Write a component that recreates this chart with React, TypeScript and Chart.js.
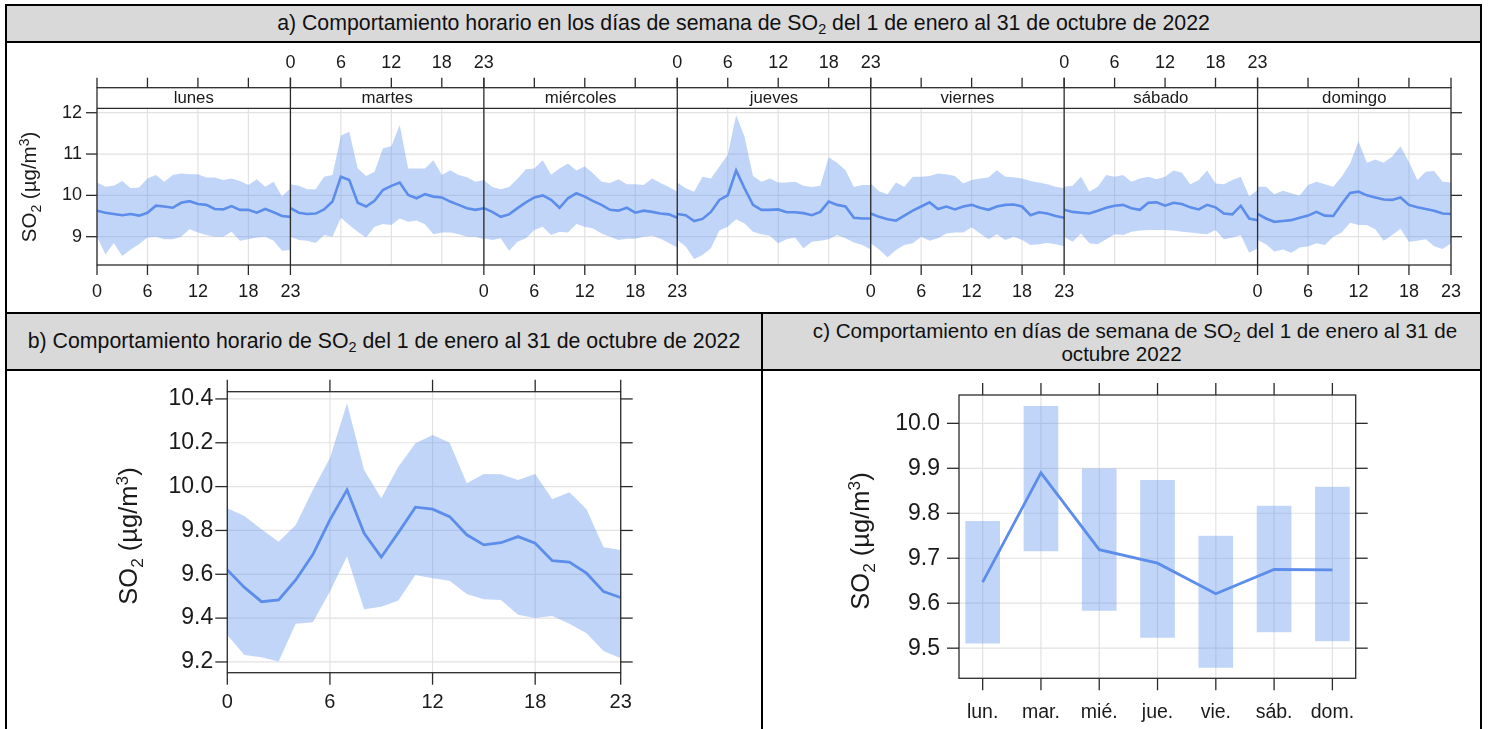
import React, { useEffect, useRef } from "react";
import { Chart, registerables } from "chart.js";
Chart.register(...registerables);

const FONT = '"Liberation Sans", Arial, Helvetica, sans-serif';
const BAND = "rgba(100,149,237,0.4)";
const LINE = "rgb(92,141,234)";
const GRID = "#e2e2e2";
const AXIS = "#2b2b2b";
const TEXT = "#1a1a1a";

// ---------- data ----------
const DAYS = ["lunes", "martes", "miércoles", "jueves", "viernes", "sábado", "domingo"];
const DAYS_SHORT = ["lun.", "mar.", "mié.", "jue.", "vie.", "sáb.", "dom."];
const HOURS = [0, 1, 2, 3, 4, 5, 6, 7, 8, 9, 10, 11, 12, 13, 14, 15, 16, 17, 18, 19, 20, 21, 22, 23];
const HOUR_TICKS = [0, 6, 12, 18, 23];
const A_Y_TICKS = [9, 10, 11, 12];
const B_Y_TICKS = [9.2, 9.4, 9.6, 9.8, 10.0, 10.2, 10.4];
const C_Y_TICKS = [9.5, 9.6, 9.7, 9.8, 9.9, 10.0];

const lunesMean = [9.63, 9.58, 9.55, 9.52, 9.55, 9.51, 9.58, 9.75, 9.73, 9.70, 9.82, 9.86, 9.79, 9.77, 9.67, 9.66, 9.74, 9.65, 9.65, 9.58, 9.67, 9.59, 9.50, 9.48];
const lunesHigh = [10.31, 10.21, 10.23, 10.35, 10.17, 10.19, 10.41, 10.49, 10.33, 10.49, 10.53, 10.51, 10.51, 10.43, 10.43, 10.37, 10.41, 10.35, 10.25, 10.39, 10.21, 10.33, 9.97, 10.17];
const lunesLow = [9.00, 8.57, 8.85, 8.53, 8.69, 8.82, 8.98, 9.00, 8.94, 8.94, 9.00, 9.18, 9.10, 9.04, 9.00, 9.00, 9.12, 8.90, 8.94, 8.98, 9.00, 8.90, 8.66, 8.68];

const martesMean = [9.69, 9.58, 9.55, 9.56, 9.66, 9.85, 10.45, 10.37, 9.82, 9.73, 9.87, 10.13, 10.23, 10.31, 10.01, 9.93, 10.03, 9.97, 9.95, 9.85, 9.77, 9.69, 9.65, 9.69];
const martesHigh = [10.27, 10.23, 10.15, 10.15, 10.45, 10.49, 11.44, 11.54, 10.65, 10.47, 10.57, 11.14, 11.19, 11.70, 10.65, 10.65, 10.65, 10.85, 10.49, 10.61, 10.49, 10.44, 10.33, 10.37];
const martesLow = [9.00, 8.92, 8.90, 8.85, 9.04, 9.00, 9.46, 9.28, 9.12, 8.98, 9.24, 9.31, 9.28, 9.44, 9.36, 9.39, 9.30, 9.06, 9.10, 9.10, 9.06, 9.00, 9.00, 8.94];

const miercolesMean = [9.69, 9.60, 9.48, 9.54, 9.69, 9.83, 9.95, 10.00, 9.89, 9.70, 9.93, 10.05, 9.97, 9.86, 9.77, 9.65, 9.63, 9.70, 9.58, 9.63, 9.60, 9.56, 9.54, 9.46];
const miercolesHigh = [10.37, 10.20, 10.15, 10.20, 10.40, 10.63, 10.65, 10.85, 10.50, 10.65, 10.77, 10.60, 10.70, 10.53, 10.33, 10.30, 10.39, 10.27, 10.27, 10.25, 10.41, 10.30, 10.20, 10.09];
const miercolesLow = [8.96, 8.92, 8.96, 8.66, 8.88, 8.96, 9.16, 9.24, 9.04, 9.12, 9.10, 9.31, 9.24, 9.20, 9.08, 9.00, 8.92, 8.95, 8.95, 9.00, 9.02, 8.95, 8.85, 8.74];

const juevesMean = [9.55, 9.52, 9.38, 9.43, 9.60, 9.89, 10.00, 10.60, 10.17, 9.77, 9.65, 9.65, 9.66, 9.59, 9.59, 9.57, 9.52, 9.60, 9.85, 9.77, 9.73, 9.46, 9.44, 9.44];
const juevesHigh = [10.31, 10.17, 10.09, 10.45, 10.41, 10.69, 10.98, 11.94, 11.42, 10.47, 10.33, 10.41, 10.31, 10.31, 10.33, 10.23, 10.20, 10.23, 10.92, 10.79, 10.61, 10.20, 10.25, 10.25];
const juevesLow = [8.92, 8.76, 8.46, 8.56, 8.72, 9.15, 9.24, 9.42, 9.32, 9.12, 9.06, 9.02, 8.84, 8.94, 8.98, 8.72, 8.88, 8.90, 8.94, 9.04, 8.96, 8.86, 8.80, 8.69];

const viernesMean = [9.56, 9.48, 9.42, 9.39, 9.51, 9.63, 9.73, 9.83, 9.67, 9.73, 9.66, 9.73, 9.77, 9.70, 9.65, 9.73, 9.77, 9.78, 9.73, 9.52, 9.59, 9.56, 9.50, 9.46];
const viernesHigh = [10.29, 10.10, 10.03, 10.31, 10.21, 10.45, 10.45, 10.47, 10.53, 10.51, 10.47, 10.29, 10.37, 10.41, 10.43, 10.61, 10.45, 10.44, 10.41, 10.35, 10.31, 10.27, 10.21, 10.17];
const viernesLow = [8.84, 8.69, 8.50, 8.68, 8.80, 8.84, 9.00, 8.90, 8.96, 9.08, 9.10, 9.10, 9.23, 9.08, 8.94, 9.06, 8.92, 9.00, 8.92, 8.80, 8.82, 8.85, 8.82, 8.77];

const sabadoMean = [9.65, 9.60, 9.58, 9.56, 9.63, 9.70, 9.75, 9.77, 9.69, 9.65, 9.82, 9.83, 9.75, 9.82, 9.79, 9.71, 9.66, 9.77, 9.71, 9.56, 9.54, 9.75, 9.44, 9.40];
const sabadoHigh = [10.21, 10.23, 10.45, 10.09, 10.21, 10.49, 10.45, 10.49, 10.33, 10.41, 10.45, 10.39, 10.45, 10.60, 10.55, 10.27, 10.37, 10.60, 10.29, 10.27, 10.37, 10.45, 9.97, 10.13];
const sabadoLow = [9.00, 8.88, 9.08, 8.84, 8.82, 8.94, 9.06, 9.04, 9.12, 9.15, 9.16, 9.16, 9.16, 9.15, 9.12, 9.10, 9.08, 9.06, 9.16, 8.94, 8.98, 9.04, 8.61, 8.72];

const domingoMean = [9.55, 9.44, 9.36, 9.38, 9.40, 9.46, 9.51, 9.60, 9.51, 9.50, 9.79, 10.06, 10.09, 10.00, 9.95, 9.90, 9.89, 9.95, 9.77, 9.71, 9.67, 9.63, 9.56, 9.55];
const domingoHigh = [10.21, 10.21, 10.03, 10.11, 10.05, 9.99, 10.25, 10.33, 10.27, 10.21, 10.45, 10.77, 11.31, 10.79, 10.87, 10.79, 10.94, 11.19, 10.81, 10.37, 10.57, 10.59, 10.33, 10.31];
const domingoLow = [8.92, 8.82, 8.64, 8.69, 8.61, 8.74, 8.76, 8.84, 8.80, 9.00, 9.10, 9.34, 9.28, 9.28, 9.18, 8.90, 9.04, 9.19, 8.88, 8.90, 8.94, 8.77, 8.70, 8.84];

const hourMean = [9.62, 9.54, 9.475, 9.483, 9.574, 9.69, 9.848, 9.985, 9.787, 9.678, 9.79, 9.906, 9.897, 9.863, 9.78, 9.734, 9.744, 9.772, 9.742, 9.662, 9.656, 9.605, 9.521, 9.494];
const hourHigh = [9.901, 9.866, 9.805, 9.749, 9.825, 9.985, 10.13, 10.38, 10.076, 9.947, 10.091, 10.198, 10.236, 10.2, 10.015, 10.058, 10.056, 10.03, 10.058, 9.942, 9.974, 9.897, 9.723, 9.711];
const hourLow = [9.323, 9.232, 9.222, 9.202, 9.374, 9.381, 9.521, 9.681, 9.44, 9.452, 9.48, 9.597, 9.582, 9.571, 9.51, 9.486, 9.483, 9.415, 9.4, 9.41, 9.374, 9.331, 9.25, 9.217];

const weekMean = [9.647, 9.89, 9.719, 9.689, 9.621, 9.675, 9.674];
const weekLow = [9.511, 9.716, 9.584, 9.524, 9.457, 9.536, 9.516];
const weekHigh = [9.782, 10.038, 9.899, 9.873, 9.749, 9.816, 9.858];

const A_MEAN = [lunesMean, martesMean, miercolesMean, juevesMean, viernesMean, sabadoMean, domingoMean];
const A_HIGH = [lunesHigh, martesHigh, miercolesHigh, juevesHigh, viernesHigh, sabadoHigh, domingoHigh];
const A_LOW = [lunesLow, martesLow, miercolesLow, juevesLow, viernesLow, sabadoLow, domingoLow];

// ---------- drawing helpers ----------
function txt(ctx: CanvasRenderingContext2D, s: string, x: number, y: number, size: number, align: CanvasTextAlign = "center") {
  ctx.save();
  ctx.font = `${size}px ${FONT}`;
  ctx.fillStyle = TEXT;
  ctx.textAlign = align;
  ctx.textBaseline = "middle";
  ctx.fillText(s, x, y);
  ctx.restore();
}
function seg(ctx: CanvasRenderingContext2D, x1: number, y1: number, x2: number, y2: number) {
  ctx.beginPath();
  ctx.moveTo(x1, y1);
  ctx.lineTo(x2, y2);
  ctx.stroke();
}
function yTitle(ctx: CanvasRenderingContext2D, cx: number, cy: number, size: number) {
  const parts = [
    { t: "SO", s: size, dy: 0 },
    { t: "2", s: size * 0.68, dy: size * 0.22 },
    { t: " (µg/m", s: size, dy: 0 },
    { t: "3", s: size * 0.68, dy: -size * 0.36 },
    { t: ")", s: size, dy: 0 },
  ];
  ctx.save();
  ctx.translate(cx, cy);
  ctx.rotate(-Math.PI / 2);
  ctx.fillStyle = TEXT;
  ctx.textAlign = "left";
  ctx.textBaseline = "alphabetic";
  let total = 0;
  const widths = parts.map((p) => {
    ctx.font = `${p.s}px ${FONT}`;
    const w = ctx.measureText(p.t).width;
    total += w;
    return w;
  });
  let x = -total / 2;
  const base = size * 0.36;
  parts.forEach((p, i) => {
    ctx.font = `${p.s}px ${FONT}`;
    ctx.fillText(p.t, x, base + p.dy);
    x += widths[i];
  });
  ctx.restore();
}

const invisible = "rgba(0,0,0,0)";

// ---------- chart a ----------
function configA(): any {
  const datasets: any[] = [];
  DAYS.forEach((day, d) => {
    datasets.push({
      label: day,
      data: HOURS.map((h) => ({ x: d * 23 + h, y: A_MEAN[d][h] })),
      borderColor: LINE, borderWidth: 2.6, pointRadius: 0, fill: false, order: 0, tension: 0,
    });
  });
  DAYS.forEach((day, d) => {
    datasets.push({
      label: day + " sup",
      data: HOURS.map((h) => ({ x: d * 23 + h, y: A_HIGH[d][h] })),
      borderColor: invisible, borderWidth: 0, pointRadius: 0, fill: false, order: 1,
    });
    datasets.push({
      label: day + " inf",
      data: HOURS.map((h) => ({ x: d * 23 + h, y: A_LOW[d][h] })),
      borderColor: invisible, borderWidth: 0, pointRadius: 0, fill: "-1", backgroundColor: BAND, order: 1,
    });
  });
  const plugin = {
    id: "latticeA",
    beforeDatasetsDraw(chart: any) {
      const { ctx, chartArea: ca, scales } = chart;
      const x = scales.x, y = scales.y;
      ctx.save();
      ctx.strokeStyle = GRID;
      ctx.lineWidth = 1.2;
      DAYS.forEach((_, d) => {
        HOUR_TICKS.forEach((h) => {
          const px = x.getPixelForValue(d * 23 + h);
          seg(ctx, px, ca.top, px, ca.bottom);
        });
      });
      A_Y_TICKS.forEach((v) => {
        const py = y.getPixelForValue(v);
        seg(ctx, ca.left, py, ca.right, py);
      });
      ctx.restore();
    },
    afterDatasetsDraw(chart: any) {
      const { ctx, chartArea: ca, scales } = chart;
      const x = scales.x, y = scales.y;
      const stripTop = ca.top - 20.6;
      ctx.save();
      ctx.strokeStyle = AXIS;
      ctx.lineWidth = 1.3;
      ctx.strokeRect(ca.left, stripTop, ca.right - ca.left, ca.bottom - stripTop);
      seg(ctx, ca.left, ca.top, ca.right, ca.top);
      DAYS.forEach((day, d) => {
        const x0 = x.getPixelForValue(d * 23);
        const x1 = x.getPixelForValue(d * 23 + 23);
        if (d < DAYS.length - 1) seg(ctx, x1, stripTop, x1, ca.bottom);
        txt(ctx, day, (x0 + x1) / 2, (stripTop + ca.top) / 2 + 0.5, 16.8);
        HOUR_TICKS.forEach((h) => {
          const px = x.getPixelForValue(d * 23 + h);
          seg(ctx, px, stripTop - 10, px, stripTop);
          if (d % 2 === 1) txt(ctx, String(h), px, stripTop - 25, 18);
          if (d % 2 === 0) {
            seg(ctx, px, ca.bottom, px, ca.bottom + 10);
            txt(ctx, String(h), px, ca.bottom + 27, 18);
          }
        });
      });
      A_Y_TICKS.forEach((v) => {
        const py = y.getPixelForValue(v);
        seg(ctx, ca.left - 11, py, ca.left, py);
        seg(ctx, ca.right, py, ca.right + 11, py);
        txt(ctx, String(v), ca.left - 15, py, 18, "right");
      });
      yTitle(ctx, 22, 144, 20.5);
      ctx.restore();
    },
  };
  return {
    type: "line",
    data: { datasets },
    options: {
      responsive: false, animation: false, devicePixelRatio: 1, events: [],
      layout: { padding: { left: 90, right: 29, top: 65.3, bottom: 47 } },
      plugins: { legend: { display: false }, tooltip: { enabled: false } },
      scales: {
        x: { type: "linear", min: 0, max: 161, display: false },
        y: { type: "linear", min: 8.315, max: 12.107, display: false },
      },
    },
    plugins: [plugin],
  };
}

// ---------- chart b ----------
function configB(): any {
  const plugin = {
    id: "frameB",
    beforeDatasetsDraw(chart: any) {
      const { ctx, chartArea: ca, scales } = chart;
      ctx.save();
      ctx.strokeStyle = GRID;
      ctx.lineWidth = 1.2;
      HOUR_TICKS.forEach((h) => {
        const px = scales.x.getPixelForValue(h);
        seg(ctx, px, ca.top, px, ca.bottom);
      });
      B_Y_TICKS.forEach((v) => {
        const py = scales.y.getPixelForValue(v);
        seg(ctx, ca.left, py, ca.right, py);
      });
      ctx.restore();
    },
    afterDatasetsDraw(chart: any) {
      const { ctx, chartArea: ca, scales } = chart;
      ctx.save();
      ctx.strokeStyle = AXIS;
      ctx.lineWidth = 1.3;
      ctx.strokeRect(ca.left, ca.top, ca.right - ca.left, ca.bottom - ca.top);
      HOUR_TICKS.forEach((h) => {
        const px = scales.x.getPixelForValue(h);
        seg(ctx, px, ca.top - 12, px, ca.top);
        seg(ctx, px, ca.bottom, px, ca.bottom + 12);
        txt(ctx, String(h), px, ca.bottom + 30, 20);
      });
      B_Y_TICKS.forEach((v) => {
        const py = scales.y.getPixelForValue(v);
        seg(ctx, ca.left - 12, py, ca.left, py);
        seg(ctx, ca.right, py, ca.right + 12, py);
        txt(ctx, v.toFixed(1), ca.left - 14, py, 23, "right");
      });
      yTitle(ctx, 121, 165, 25.5);
      ctx.restore();
    },
  };
  return {
    type: "line",
    data: {
      datasets: [
        { label: "media", data: HOURS.map((h) => ({ x: h, y: hourMean[h] })), borderColor: LINE, borderWidth: 2.8, pointRadius: 0, fill: false, order: 0 },
        { label: "sup", data: HOURS.map((h) => ({ x: h, y: hourHigh[h] })), borderColor: invisible, borderWidth: 0, pointRadius: 0, fill: false, order: 1 },
        { label: "inf", data: HOURS.map((h) => ({ x: h, y: hourLow[h] })), borderColor: invisible, borderWidth: 0, pointRadius: 0, fill: "-1", backgroundColor: BAND, order: 1 },
      ],
    },
    options: {
      responsive: false, animation: false, devicePixelRatio: 1, events: [],
      layout: { padding: { left: 220.3, right: 140.3, top: 20.7, bottom: 56.3 } },
      plugins: { legend: { display: false }, tooltip: { enabled: false } },
      scales: {
        x: { type: "linear", min: 0, max: 23, display: false },
        y: { type: "linear", min: 9.151, max: 10.433, display: false },
      },
    },
    plugins: [plugin],
  };
}

// ---------- chart c ----------
function configC(): any {
  const plugin = {
    id: "frameC",
    beforeDatasetsDraw(chart: any) {
      const { ctx, chartArea: ca, scales } = chart;
      ctx.save();
      ctx.strokeStyle = GRID;
      ctx.lineWidth = 1.2;
      DAYS_SHORT.forEach((_, i) => {
        const px = scales.x.getPixelForValue(i);
        seg(ctx, px, ca.top, px, ca.bottom);
      });
      C_Y_TICKS.forEach((v) => {
        const py = scales.y.getPixelForValue(v);
        seg(ctx, ca.left, py, ca.right, py);
      });
      ctx.restore();
    },
    afterDatasetsDraw(chart: any) {
      const { ctx, chartArea: ca, scales } = chart;
      ctx.save();
      ctx.strokeStyle = AXIS;
      ctx.lineWidth = 1.3;
      ctx.strokeRect(ca.left, ca.top, ca.right - ca.left, ca.bottom - ca.top);
      DAYS_SHORT.forEach((lab, i) => {
        const px = scales.x.getPixelForValue(i);
        seg(ctx, px, ca.top - 12, px, ca.top);
        seg(ctx, px, ca.bottom, px, ca.bottom + 12);
        txt(ctx, lab, px, ca.bottom + 34, 19.5);
      });
      C_Y_TICKS.forEach((v) => {
        const py = scales.y.getPixelForValue(v);
        seg(ctx, ca.left - 12, py, ca.left, py);
        seg(ctx, ca.right, py, ca.right + 12, py);
        txt(ctx, v.toFixed(1), ca.left - 19, py, 23, "right");
      });
      yTitle(ctx, 97, 170, 25.5);
      ctx.restore();
    },
  };
  return {
    type: "bar",
    data: {
      datasets: [
        { type: "line", label: "media", data: DAYS_SHORT.map((_, i) => ({ x: i, y: weekMean[i] })), borderColor: LINE, borderWidth: 2.8, pointRadius: 0, fill: false, order: 0 },
        { type: "bar", label: "intervalo", data: DAYS_SHORT.map((_, i) => ({ x: i, y: [weekLow[i], weekHigh[i]] })), backgroundColor: BAND, borderWidth: 0, barThickness: 34, order: 1 },
      ],
    },
    options: {
      responsive: false, animation: false, devicePixelRatio: 1, events: [],
      layout: { padding: { left: 196, right: 124.3, top: 24, bottom: 50.7 } },
      plugins: { legend: { display: false }, tooltip: { enabled: false } },
      scales: {
        x: { type: "linear", min: -0.406, max: 6.4, display: false, offset: false },
        y: { type: "linear", min: 9.433, max: 10.063, display: false },
      },
    },
    plugins: [plugin],
  };
}

function ChartCanvas({ factory, left, top, width, height }: { factory: () => any; left: number; top: number; width: number; height: number }) {
  const ref = useRef<HTMLCanvasElement | null>(null);
  useEffect(() => {
    const chart = new Chart(ref.current as HTMLCanvasElement, factory());
    return () => chart.destroy();
  }, []);
  return <canvas ref={ref} width={width} height={height} style={{ position: "absolute", left, top, width, height }} />;
}

const Sub = () => <span style={{ fontSize: "0.68em", position: "relative", top: "0.28em" }}>2</span>;

function Bar({ l, t, w, h }: { l: number; t: number; w: number; h: number }) {
  return <div style={{ position: "absolute", left: l, top: t, width: w, height: h, background: "#000" }} />;
}

export default function App() {
  const hdr: React.CSSProperties = { position: "absolute", display: "flex", alignItems: "center", justifyContent: "center", fontSize: 21.3, color: "#111", whiteSpace: "nowrap" };
  return (
    <div style={{ position: "absolute", left: 0, top: 0, width: 1488, height: 729, background: "#fff", fontFamily: FONT, overflow: "hidden" }}>
      <div style={{ position: "absolute", left: 7, top: 6, width: 1473, height: 35, background: "#d9d9d9" }} />
      <div style={{ position: "absolute", left: 7, top: 314, width: 754, height: 55, background: "#d9d9d9" }} />
      <div style={{ position: "absolute", left: 763, top: 314, width: 717, height: 55, background: "#d9d9d9" }} />

      <div style={{ ...hdr, left: 7, top: 6, width: 1473, height: 35 }}>
        <span>a) Comportamiento horario en los días de semana de SO<Sub /> del 1 de enero al 31 de octubre de 2022</span>
      </div>
      <div style={{ ...hdr, left: 7, top: 314, width: 754, height: 55 }}>
        <span>b) Comportamiento horario de SO<Sub /> del 1 de enero al 31 de octubre de 2022</span>
      </div>
      <div style={{ ...hdr, fontSize: 20.6, left: 790, top: 320, width: 690, height: 22 }}>
        <span>c) Comportamiento en días de semana de SO<Sub /> del 1 de enero al 31 de</span>
      </div>
      <div style={{ ...hdr, fontSize: 20.6, left: 763, top: 343, width: 717, height: 22 }}>
        <span>octubre 2022</span>
      </div>

      <ChartCanvas factory={configA} left={7} top={43} width={1473} height={269} />
      <ChartCanvas factory={configB} left={7} top={371} width={754} height={358} />
      <ChartCanvas factory={configC} left={763} top={371} width={717} height={358} />

      <Bar l={5} t={4} w={1477} h={2} />
      <Bar l={5} t={41} w={1477} h={2} />
      <Bar l={5} t={312} w={1477} h={2} />
      <Bar l={5} t={369} w={1477} h={2} />
      <Bar l={5} t={4} w={2} h={725} />
      <Bar l={1480} t={4} w={2} h={725} />
      <Bar l={761} t={312} w={2} h={417} />
    </div>
  );
}
